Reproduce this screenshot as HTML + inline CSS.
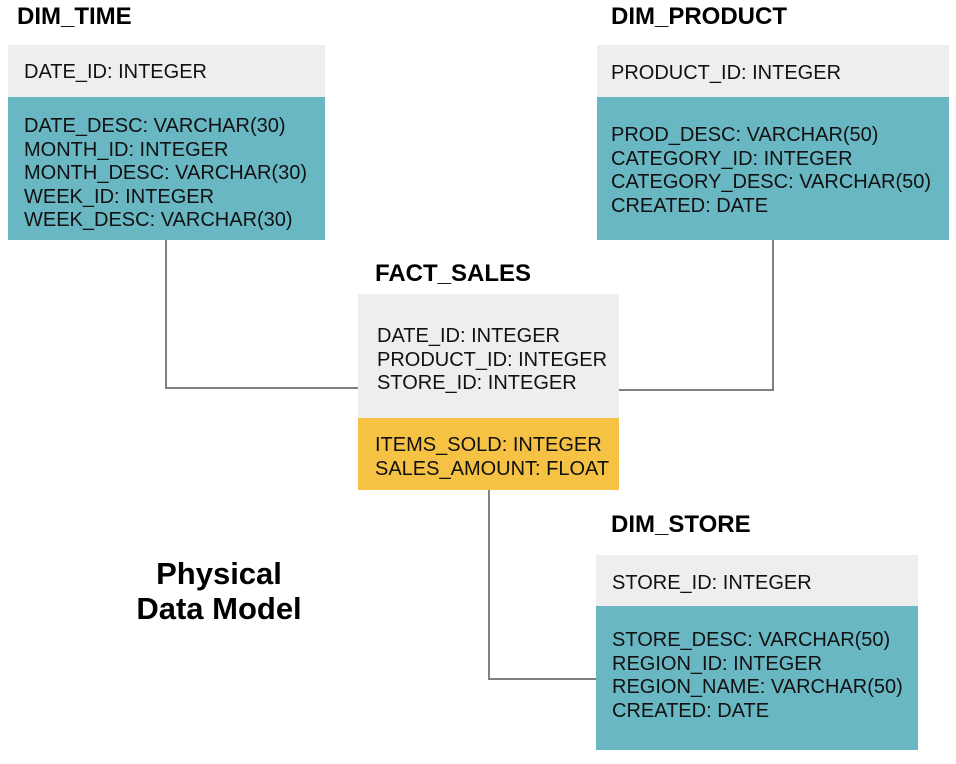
<!DOCTYPE html>
<html><head><style>
body{margin:0;width:956px;height:764px;background:#fff;position:relative;overflow:hidden;font-family:"Liberation Sans",Arial,sans-serif;}
.a{position:absolute;}
.t{font-weight:bold;font-size:24px;color:#000;}
.h{background:#eeeeee;}
.b{background:#69b7c3;}
.y{background:#f6c244;}
.x{position:absolute;font-size:20px;line-height:23.5px;color:#111;white-space:nowrap;}
.l{position:absolute;background:#808080;}
</style></head><body>
<div class="l" style="left:165px;top:240px;width:2px;height:149px"></div>
<div class="l" style="left:165px;top:387px;width:194px;height:2px"></div>
<div class="l" style="left:619px;top:389px;width:155px;height:2px"></div>
<div class="l" style="left:772px;top:240px;width:2px;height:151px"></div>
<div class="l" style="left:488px;top:490px;width:2px;height:190px"></div>
<div class="l" style="left:488px;top:678px;width:109px;height:2px"></div>

<div class="a t" style="left:17px;top:3px">DIM_TIME</div>
<div class="a h" style="left:8px;top:45px;width:317px;height:52px"></div>
<div class="a b" style="left:8px;top:97px;width:317px;height:143px"></div>
<div class="x" style="left:24px;top:61px">DATE_ID: INTEGER</div>
<div class="x" style="left:24px;top:115px">DATE_DESC: VARCHAR(30)<br>MONTH_ID: INTEGER<br>MONTH_DESC: VARCHAR(30)<br>WEEK_ID: INTEGER<br>WEEK_DESC: VARCHAR(30)</div>

<div class="a t" style="left:611px;top:3px">DIM_PRODUCT</div>
<div class="a h" style="left:597px;top:45px;width:352px;height:52px"></div>
<div class="a b" style="left:597px;top:97px;width:352px;height:143px"></div>
<div class="x" style="left:611px;top:62px">PRODUCT_ID: INTEGER</div>
<div class="x" style="left:611px;top:124px">PROD_DESC: VARCHAR(50)<br>CATEGORY_ID: INTEGER<br>CATEGORY_DESC: VARCHAR(50)<br>CREATED: DATE</div>

<div class="a t" style="left:375px;top:260px">FACT_SALES</div>
<div class="a h" style="left:358px;top:294px;width:261px;height:124px"></div>
<div class="a y" style="left:358px;top:418px;width:261px;height:72px"></div>
<div class="x" style="left:377px;top:325px">DATE_ID: INTEGER<br>PRODUCT_ID: INTEGER<br>STORE_ID: INTEGER</div>
<div class="x" style="left:375px;top:434px">ITEMS_SOLD: INTEGER<br>SALES_AMOUNT: FLOAT</div>

<div class="a t" style="left:611px;top:511px">DIM_STORE</div>
<div class="a h" style="left:596px;top:555px;width:322px;height:51px"></div>
<div class="a b" style="left:596px;top:606px;width:322px;height:144px"></div>
<div class="x" style="left:612px;top:572px">STORE_ID: INTEGER</div>
<div class="x" style="left:612px;top:629px">STORE_DESC: VARCHAR(50)<br>REGION_ID: INTEGER<br>REGION_NAME: VARCHAR(50)<br>CREATED: DATE</div>

<div class="a" style="left:79px;top:556px;width:280px;text-align:center;font-weight:bold;font-size:31px;line-height:35px">Physical<br>Data Model</div>
</body></html>
